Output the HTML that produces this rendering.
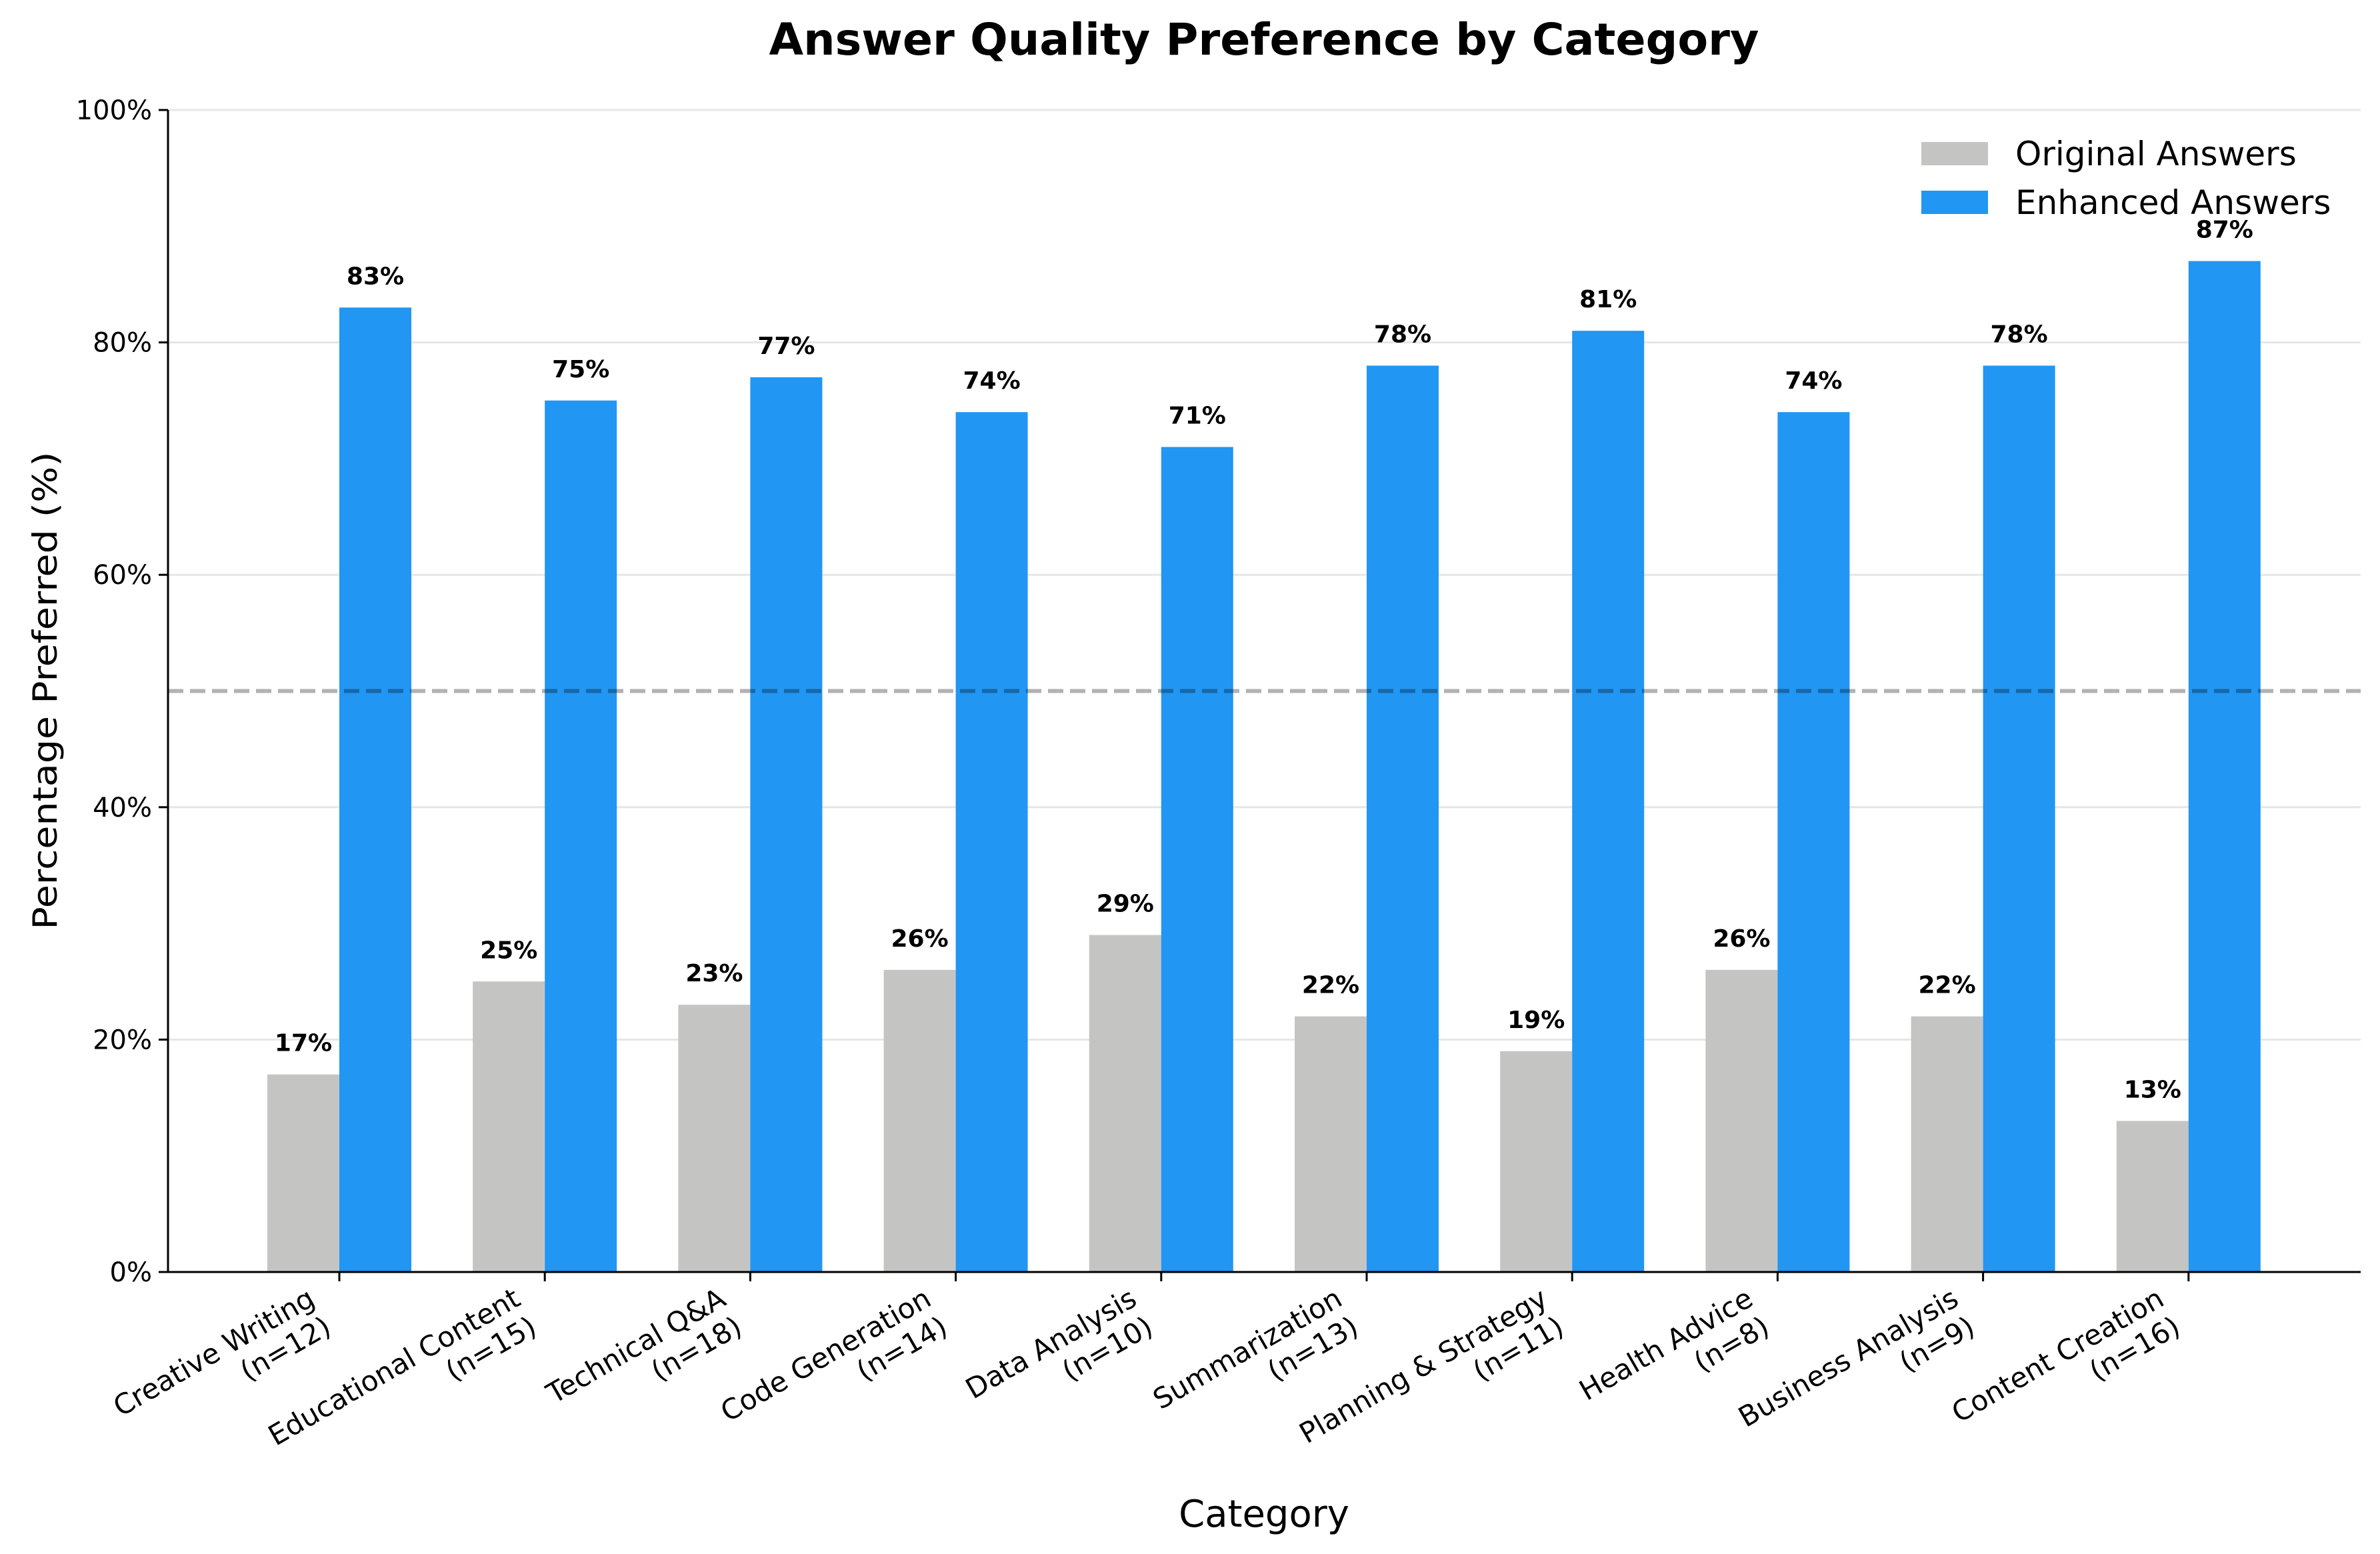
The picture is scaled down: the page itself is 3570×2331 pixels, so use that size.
<!DOCTYPE html>
<html><head><meta charset="utf-8"><style>
html,body{margin:0;padding:0;background:#fff;}
svg{display:block;font-family:"DejaVu Sans","Liberation Sans",sans-serif;}
</style></head><body>
<svg id="chart" width="3570" height="2331" viewBox="0 0 3570 2331" xmlns="http://www.w3.org/2000/svg">
<rect width="3570" height="2331" fill="#fff"/>
<text x="1896" y="82" text-anchor="middle" font-size="66" font-weight="bold" textLength="1485" lengthAdjust="spacingAndGlyphs">Answer Quality Preference by Category</text>
<g id="grid"></g>
<g id="bars"></g>
<line id="refline" x1="252" x2="3541" stroke="#000" stroke-opacity="0.3" stroke-width="6" stroke-dasharray="23 10"/>
<g id="axes"></g>
<text transform="translate(68,1036) rotate(-90)" text-anchor="middle" font-size="50" textLength="717" lengthAdjust="spacingAndGlyphs" dy="17">Percentage Preferred (%)</text>
<text x="1896" y="2290" text-anchor="middle" font-size="56">Category</text>
<g>
<rect x="2882" y="213" width="100" height="35" fill="#c4c4c3"/>
<text x="3023" y="248" font-size="50">Original Answers</text>
<rect x="2882" y="286" width="100" height="35" fill="#2196f3"/>
<text x="3023" y="321" font-size="50">Enhanced Answers</text>
</g>
</svg>
<script>
const categories = ["Creative Writing","Educational Content","Technical Q&A","Code Generation","Data Analysis","Summarization","Planning & Strategy","Health Advice","Business Analysis","Content Creation"];
const sampleSizes = [12,15,18,14,10,13,11,8,9,16];
const originalValues = [17,25,23,26,29,22,19,26,22,13];
const enhancedValues = [83,75,77,74,71,78,81,74,78,87];
const yTicks = [0,20,40,60,80,100];
const refValue = 50;

const NS = "http://www.w3.org/2000/svg";
const X0 = 252, X1 = 3541, Y0 = 1908, Y100 = 165;
const first = 509, step = 308.2, barW = 108;
function yScale(v){ return Y0 - (Y0 - Y100) * v / 100; }
function xScale(i){ return first + step * i; }
function mk(tag, attrs, parent){ const e = document.createElementNS(NS, tag); for (const k in attrs) e.setAttribute(k, attrs[k]); parent.appendChild(e); return e; }

const grid = document.getElementById('grid');
const bars = document.getElementById('bars');
const axes = document.getElementById('axes');
const ref = document.getElementById('refline');
ref.setAttribute('y1', yScale(refValue));
ref.setAttribute('y2', yScale(refValue));

yTicks.forEach(t => {
  const y = yScale(t);
  const g = mk('line', {x1: X0, x2: X1, y1: y, y2: y, stroke: '#e6e6e6', 'stroke-width': 3}, grid);
  
  
  const tk = mk('line', {x1: X0 - 14, x2: X0, y1: y, y2: y, stroke: '#000', 'stroke-width': 3}, axes);
  
  
  const lb = mk('text', {x: X0 - 24, y: y + 14, 'text-anchor': 'end', 'font-size': 40}, axes);
  lb.textContent = t + '%';
  
  
});

categories.forEach((c, i) => {
  const cx = xScale(i);
  const ov = originalValues[i], ev = enhancedValues[i];
  const r1 = mk('rect', {x: cx - barW, y: yScale(ov), width: barW, height: Y0 - yScale(ov), fill: '#c4c4c3'}, bars);
  
  
  const r2 = mk('rect', {x: cx, y: yScale(ev), width: barW, height: Y0 - yScale(ev), fill: '#2196f3'}, bars);
  
  
  const t1 = mk('text', {x: cx - barW / 2, y: yScale(ov) - 35, 'text-anchor': 'middle', 'font-size': 36, 'font-weight': 'bold'}, bars);
  t1.textContent = ov + '%';
  
  
  const t2 = mk('text', {x: cx + barW / 2, y: yScale(ev) - 35, 'text-anchor': 'middle', 'font-size': 36, 'font-weight': 'bold'}, bars);
  t2.textContent = ev + '%';
  
  
  const tk = mk('line', {x1: cx, x2: cx, y1: Y0, y2: Y0 + 14, stroke: '#000', 'stroke-width': 3}, axes);
  
  
  const g = mk('g', {transform: 'translate(' + (cx - 34) + ',' + (Y0 + 48) + ') rotate(-30)'}, axes);
  
  
  const l1 = mk('text', {x: 0, y: 0, 'text-anchor': 'end', 'font-size': 42}, g);
  l1.textContent = c;
  const l2 = mk('text', {x: 0, y: 49, 'text-anchor': 'end', 'font-size': 42}, g);
  l2.textContent = '(n=' + sampleSizes[i] + ')';
});

const la = mk('line', {x1: X0, x2: X0, y1: Y100, y2: Y0 + 1.5, stroke: '#000', 'stroke-width': 3}, axes);


const lb = mk('line', {x1: X0 - 1.5, x2: X1, y1: Y0, y2: Y0, stroke: '#000', 'stroke-width': 3}, axes);


</script>
</body></html>
